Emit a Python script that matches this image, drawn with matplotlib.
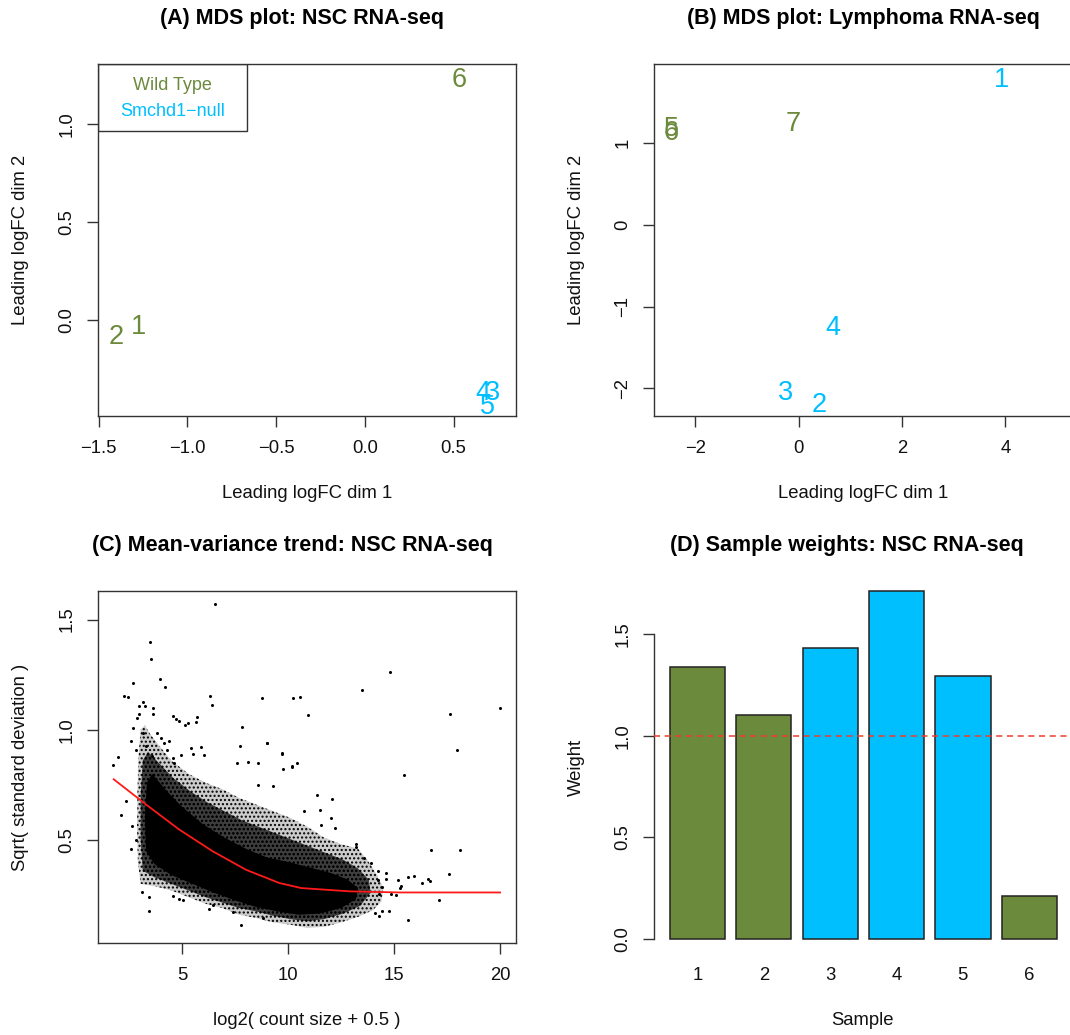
import numpy as np
import matplotlib.pyplot as plt
from matplotlib.patches import Rectangle, Polygon

plt.rcParams['font.family'] = ['Liberation Sans', 'DejaVu Sans']
plt.rcParams['hatch.linewidth'] = 1.0

GREEN = '#6B8A3C'
BLUE = '#00BFFF'
AXC = '#333333'
group_col = {'wt': GREEN, 'null': BLUE}

# (A) MDS plot, NSC RNA-seq
nsc_labels = ['1', '2', '3', '4', '5', '6']
nsc_dim1 = [-1.278, -1.404, 0.721, 0.665, 0.690, 0.530]
nsc_dim2 = [-0.036, -0.087, -0.376, -0.376, -0.444, 1.225]
nsc_group = ['wt', 'wt', 'null', 'null', 'null', 'wt']

# (B) MDS plot, lymphoma RNA-seq
lym_labels = ['1', '2', '3', '4', '5', '6', '7']
lym_dim1 = [3.93, 0.397, -0.25, 0.66, -2.465, -2.465, -0.105]
lym_dim2 = [1.775, -2.203, -2.06, -1.257, 1.18, 1.12, 1.236]
lym_group = ['null', 'null', 'null', 'null', 'wt', 'wt', 'wt']

# (C) mean-variance trend
trend_x = [1.78, 3.31, 4.88, 6.45, 8.02, 9.59, 10.62, 12.92, 15.28, 20.0]
trend_y = [0.775, 0.660, 0.546, 0.448, 0.364, 0.304, 0.281, 0.266, 0.261, 0.261]

# outline of the bulk of the gene cloud (sparse fringe, medium, dense core)
cloud_outer_x = [3.05, 2.92, 2.88, 2.90, 2.95, 3.05, 3.25, 3.5, 3.9, 4.5, 5.3, 6.1, 6.9, 7.7,
                 8.5, 9.3, 10.1, 10.9, 11.7, 12.5, 13.3, 13.8, 14.2, 14.5, 14.4, 14.0, 13.3,
                 12.5, 11.7, 10.9, 10.1, 9.3, 8.5, 7.7, 6.9, 6.1, 5.3, 4.5, 3.7]
cloud_outer_y = [0.30, 0.40, 0.55, 0.72, 0.88, 1.00, 1.02, 0.98, 0.93, 0.86, 0.80, 0.76, 0.73, 0.69,
                 0.66, 0.63, 0.60, 0.56, 0.51, 0.48, 0.46, 0.40, 0.34, 0.28, 0.22, 0.18, 0.15,
                 0.125, 0.105, 0.10, 0.115, 0.125, 0.145, 0.16, 0.19, 0.21, 0.24, 0.27, 0.29]
cloud_mid_x = [3.15, 3.05, 3.05, 3.15, 3.4, 3.9, 4.6, 5.4, 6.2, 7.0, 7.8, 8.6, 9.4, 10.2, 11.0,
               11.8, 12.6, 13.3, 13.8, 13.9, 13.4, 12.6, 11.7, 10.9, 10.1, 9.3, 8.5, 7.7, 6.9,
               6.1, 5.3, 4.5, 3.7]
cloud_mid_y = [0.36, 0.50, 0.70, 0.86, 0.90, 0.85, 0.78, 0.72, 0.67, 0.63, 0.59, 0.56, 0.53, 0.50, 0.47,
               0.44, 0.41, 0.37, 0.32, 0.26, 0.20, 0.165, 0.14, 0.13, 0.14, 0.155, 0.175, 0.19, 0.215,
               0.24, 0.27, 0.30, 0.33]
cloud_core_x = [3.3, 3.25, 3.35, 3.6, 4.2, 5.0, 6.0, 7.0, 8.0, 9.0, 10.0, 11.0, 12.0, 12.8, 13.3,
                13.2, 12.5, 11.5, 10.5, 9.5, 8.5, 7.5, 6.5, 5.5, 4.5, 3.7]
cloud_core_y = [0.45, 0.60, 0.76, 0.80, 0.73, 0.65, 0.57, 0.51, 0.46, 0.42, 0.40, 0.375, 0.35, 0.32, 0.28,
                0.23, 0.19, 0.165, 0.16, 0.175, 0.195, 0.225, 0.26, 0.30, 0.34, 0.39]

# individual genes outside the bulk
gene_x = [6.55, 3.51, 3.56, 3.97, 4.22, 2.68, 2.27, 2.44, 6.34, 6.43, 8.75, 10.24, 10.56, 7.85,
          7.75, 9.01, 9.71, 4.59, 4.74, 4.88, 5.16, 5.30, 5.65, 5.73, 5.43, 5.51, 5.90, 6.06,
          3.16, 2.96, 1.99, 1.76, 8.60, 7.61, 8.13, 10.18, 10.40, 14.83, 13.51, 10.95, 17.65,
          20.0, 17.99, 15.46, 11.36, 12.09, 10.73, 11.51, 12.03, 11.56, 12.22, 16.75, 18.13,
          17.58, 15.68, 15.96, 15.18, 16.33, 16.58, 16.70, 17.14, 15.67, 15.29, 15.33, 15.08,
          14.85, 14.63, 14.63, 14.44, 14.78, 14.31, 14.45, 14.11, 14.24, 14.27, 13.56, 13.20,
          13.92, 14.24, 2.14, 2.36, 2.61, 2.65, 2.83, 3.12, 3.46, 3.46, 4.59, 4.85, 5.07, 6.29,
          6.45, 7.79, 7.40, 8.81, 9.74, 10.18, 9.70, 9.02, 8.58, 9.30, 13.19, 2.68, 2.87, 2.96,
          3.26, 3.65, 3.62, 3.15, 3.83, 4.03, 4.17, 4.38, 2.58, 2.83, 3.31, 4.57, 4.96, 4.64,
          4.30, 3.59]
gene_y = [1.570, 1.398, 1.319, 1.231, 1.195, 1.210, 1.153, 1.148, 1.154, 1.112, 1.145, 1.145, 1.150,
          1.014, 0.924, 0.940, 0.890, 1.060, 1.050, 1.038, 1.021, 1.032, 1.033, 1.059, 0.918, 0.890,
          0.921, 0.887, 1.128, 1.109, 0.874, 0.838, 0.849, 0.849, 0.855, 0.833, 0.847, 1.262, 1.182,
          1.065, 1.073, 1.100, 0.909, 0.796, 0.702, 0.685, 0.632, 0.637, 0.599, 0.566, 0.554, 0.452,
          0.454, 0.345, 0.331, 0.337, 0.317, 0.304, 0.324, 0.315, 0.228, 0.138, 0.281, 0.289, 0.251,
          0.254, 0.349, 0.324, 0.286, 0.175, 0.153, 0.177, 0.168, 0.357, 0.256, 0.418, 0.483, 0.394,
          0.319, 0.611, 0.675, 0.457, 0.561, 0.498, 0.265, 0.241, 0.175, 0.243, 0.232, 0.225, 0.186,
          0.206, 0.115, 0.171, 0.145, 0.821, 0.832, 0.892, 0.938, 0.749, 0.745, 0.467, 1.009, 1.053,
          1.073, 1.106, 1.097, 1.073, 0.985, 0.985, 0.962, 0.940, 0.951, 0.947, 0.909, 0.924, 0.872,
          0.883, 0.849, 0.909, 0.879]

# (D) sample weights
samples = ['1', '2', '3', '4', '5', '6']
weights = [1.336, 1.102, 1.433, 1.709, 1.291, 0.212]
sample_group = ['wt', 'wt', 'null', 'null', 'null', 'wt']

W, H = 1070, 1035
fig = plt.figure(figsize=(W / 100, H / 100), dpi=100)


def box(l, t, r, b):
    return [l / W, 1 - b / H, (r - l) / W, (b - t) / H]


axA = fig.add_axes(box(98, 64.3, 516, 415.7))
axB = fig.add_axes(box(653.8, 64.3, 1071.8, 415.7))
axC = fig.add_axes(box(98, 591.4, 516, 942.9))
axD = fig.add_axes(box(653.8, 591.4, 1071.8, 942.9))

FS = 13.3


def style(ax, title, title_x, xlabel, ylabel, ticklen=7.9):
    for s in ax.spines.values():
        s.set_color(AXC)
        s.set_linewidth(1.0)
    ax.tick_params(direction='out', length=ticklen, width=1.0, color=AXC,
                   labelsize=FS, labelcolor='#111111')
    ax.tick_params(axis='x', pad=9.4)
    ax.tick_params(axis='y', pad=8.4)
    plt.setp(ax.get_yticklabels(), rotation=90, va='center')
    ax.set_xlabel(xlabel, fontsize=FS, va='center', color='#111111')
    ax.set_ylabel(ylabel, fontsize=FS, va='center', color='#111111')
    ax.xaxis.set_label_coords(0.5, -77.6 / 351.4)
    ax.yaxis.set_label_coords(-77.0 / 418, 0.5)
    pos = ax.get_position()
    ax.set_title(title, fontsize=15.5, fontweight='bold', va='center', pad=0,
                 x=(title_x / W - pos.x0) / pos.width, y=1 + 46 / 351.4)


# ---- (A)
for lab, x, y, g in zip(nsc_labels, nsc_dim1, nsc_dim2, nsc_group):
    axA.text(x, y, lab, color=group_col[g], fontsize=19.5, ha='center', va='center')
axA.set_xlim(-1.504, 0.852)
axA.set_ylim(-0.49, 1.305)
axA.set_xticks([-1.5, -1.0, -0.5, 0.0, 0.5])
axA.set_xticklabels(['\u22121.5', '\u22121.0', '\u22120.5', '0.0', '0.5'])
axA.set_yticks([0.0, 0.5, 1.0])
axA.set_yticklabels(['0.0', '0.5', '1.0'])
style(axA, '(A) MDS plot: NSC RNA-seq', 302, 'Leading logFC dim 1', 'Leading logFC dim 2')
axA.add_patch(Rectangle((0, 0.810), 0.357, 0.190, transform=axA.transAxes,
                        fill=False, edgecolor=AXC, lw=1.0))
axA.text(0.178, 0.939, 'Wild Type', color=GREEN, fontsize=13, ha='center', va='center',
         transform=axA.transAxes)
axA.text(0.178, 0.867, 'Smchd1\u2212null', color=BLUE, fontsize=13, ha='center', va='center',
         transform=axA.transAxes)

# ---- (B)
for lab, x, y, g in zip(lym_labels, lym_dim1, lym_dim2, lym_group):
    axB.text(x, y, lab, color=group_col[g], fontsize=19.5, ha='center', va='center')
axB.set_xlim(-2.805, -2.805 + 418 / 51.65)
axB.set_ylim(-2.335, 1.967)
axB.set_xticks([-2, 0, 2, 4])
axB.set_xticklabels(['\u22122', '0', '2', '4'])
axB.set_yticks([-2, -1, 0, 1])
axB.set_yticklabels(['\u22122', '\u22121', '0', '1'])
style(axB, '(B) MDS plot: Lymphoma RNA-seq', 863, 'Leading logFC dim 1', 'Leading logFC dim 2')

# ---- (C)
# bulk of the genes: speckled fringe, denser middle, solid core
axC.add_patch(Polygon(np.column_stack([cloud_outer_x, cloud_outer_y]), closed=True,
                      facecolor=(0, 0, 0, 0.2), edgecolor='black', lw=0, hatch='....'))
axC.add_patch(Polygon(np.column_stack([cloud_mid_x, cloud_mid_y]), closed=True,
                      facecolor=(0, 0, 0, 0.7), edgecolor='black', lw=0, hatch='....'))
axC.add_patch(Polygon(np.column_stack([cloud_core_x, cloud_core_y]), closed=True,
                      facecolor='black', edgecolor='none'))
axC.plot(gene_x, gene_y, 'o', color='black', ms=2.2, mew=0, linestyle='none')
axC.plot(trend_x, trend_y, color='#FF1A1A', lw=1.3)
axC.set_xlim(1.04, 20.75)
axC.set_ylim(0.032, 1.628)
axC.set_xticks([5, 10, 15, 20])
axC.set_yticks([0.5, 1.0, 1.5])
axC.set_yticklabels(['0.5', '1.0', '1.5'])
style(axC, '(C) Mean-variance trend: NSC RNA-seq', 292, 'log2( count size + 0.5 )',
      'Sqrt( standard deviation )')

# ---- (D)
bar_pos = 0.7 + 1.2 * np.arange(len(samples))
axD.bar(bar_pos, weights, width=1.0, color=[group_col[g] for g in sample_group],
        edgecolor='#222222', linewidth=1.1, clip_on=False, zorder=2)
axD.axhline(1.0, color='#F03C2E', lw=1.1, ls=(0, (4, 3)), zorder=3)
axD.set_xlim(-0.089, -0.089 + 418 / 55.3)
axD.set_ylim(-0.018, 1.709)
axD.set_xticks(bar_pos)
axD.set_xticklabels(samples)
axD.set_yticks([0.0, 0.5, 1.0, 1.5])
axD.set_yticklabels(['0.0', '0.5', '1.0', '1.5'])
style(axD, '(D) Sample weights: NSC RNA-seq', 846.6, 'Sample', 'Weight')
for s in ['top', 'right', 'bottom']:
    axD.spines[s].set_visible(False)
axD.spines['left'].set_bounds(0.0, 1.5)
axD.tick_params(axis='x', length=0, pad=17)

fig.savefig('out.png', dpi=100)
